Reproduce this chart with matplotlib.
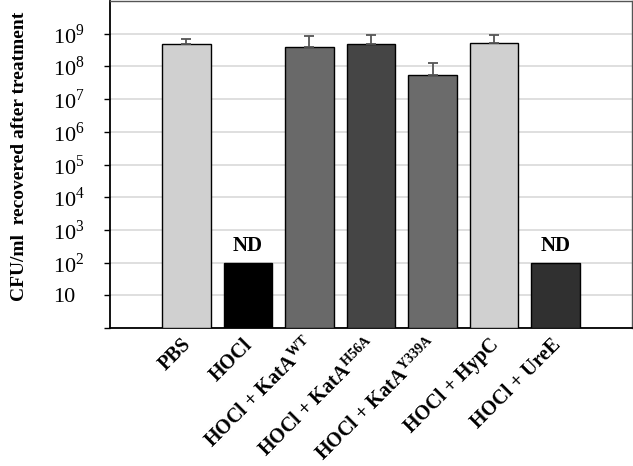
import numpy as np
import matplotlib
matplotlib.use("Agg")
import matplotlib.pyplot as plt
import matplotlib.transforms as mtransforms

plt.rcParams['font.family'] = 'Liberation Serif'
plt.rcParams['mathtext.fontset'] = 'custom'
plt.rcParams['mathtext.rm'] = 'Liberation Serif'
plt.rcParams['mathtext.bf'] = 'Liberation Serif:bold'

# Data (CFU/ml)
labels = ['PBS', 'HOCl',
          r'HOCl + KatA$^{\mathbf{WT}}$',
          r'HOCl + KatA$^{\mathbf{H56A}}$',
          r'HOCl + KatA$^{\mathbf{Y339A}}$',
          'HOCl + HypC', 'HOCl + UreE']
values = [4.8e8, 1e2, 4.0e8, 4.8e8, 5.6e7, 5.2e8, 1e2]
err_up = [2.0e8, 0, 4.4e8, 4.3e8, 7.0e7, 3.9e8, 0]
colors = ['#d0d0d0', '#000000', '#696969', '#454545', '#6b6b6b', '#d0d0d0', '#303030']
nd = [False, True, False, False, False, False, True]

ytick_vals = [1, 10, 1e2, 1e3, 1e4, 1e5, 1e6, 1e7, 1e8, 1e9]
ytick_labels = ['', '10', '$10^2$', '$10^3$', '$10^4$', '$10^5$',
                '$10^6$', '$10^7$', '$10^8$', '$10^9$']

fig = plt.figure(figsize=(6.33, 4.66), dpi=100)
ax = fig.add_axes([110 / 633, 1 - 328 / 466, 522 / 633, 327 / 466])

x = np.arange(len(values))
ax.set_yscale('log')
ax.set_ylim(1, 1e10)
ax.set_xlim(-1.24, 7.24)

ax.yaxis.grid(True, color='#d9d9d9', linewidth=1.2)
ax.set_axisbelow(True)

ax.bar(x, np.array(values) - 1, bottom=1, width=0.79, color=colors,
       edgecolor='black', linewidth=1.0, zorder=3)

for i in range(len(values)):
    if err_up[i] > 0:
        ax.errorbar(x[i], values[i], yerr=[[0], [err_up[i]]], fmt='none',
                    ecolor='#555555', elinewidth=1.3, capsize=3.5,
                    capthick=1.3, zorder=4)
    if nd[i]:
        ax.text(x[i], values[i] * 1.6, 'ND', ha='center', va='bottom',
                fontsize=15, fontweight='bold', zorder=5)

ax.set_yticks(ytick_vals)
ax.set_yticklabels(ytick_labels, fontsize=16)
ax.yaxis.set_minor_locator(matplotlib.ticker.NullLocator())
ax.tick_params(axis='y', length=4, width=1, pad=37)
for t in ax.get_yticklabels():
    t.set_horizontalalignment('left')

ax.set_xticks(x)
ax.set_xticklabels(labels, rotation=45, ha='right', va='center',
                   rotation_mode='anchor', fontsize=14.5, fontweight='bold')
ax.tick_params(axis='x', length=0, pad=10)
offset = mtransforms.ScaledTranslation(2 / 100, 0, fig.dpi_scale_trans)
for t in ax.get_xticklabels():
    t.set_transform(t.get_transform() + offset)

ax.set_ylabel('CFU/ml  recovered after treatment', fontsize=14,
              fontweight='bold')
ax.yaxis.set_label_coords(-0.158, 0.524)

for s in ['left', 'bottom']:
    ax.spines[s].set_color('black')
    ax.spines[s].set_linewidth(1.3)
for s in ['top', 'right']:
    ax.spines[s].set_color('#555555')
    ax.spines[s].set_linewidth(1.0)

fig.savefig('out.png', dpi=100)
